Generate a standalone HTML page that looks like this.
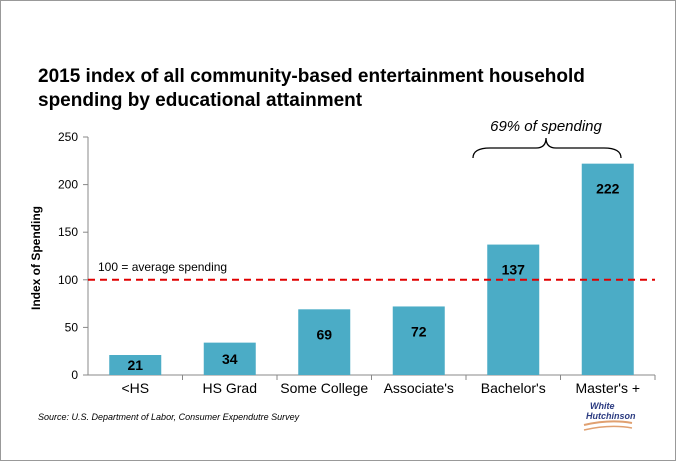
<!DOCTYPE html>
<html><head><meta charset="utf-8"><style>
body{margin:0;background:#fff}
svg{display:block;font-family:"Liberation Sans",sans-serif}
</style></head><body>
<svg id="c" width="676" height="461">
<rect x="0.5" y="0.5" width="675" height="460" fill="#fff" stroke="#999"/>
<text x="38" y="82" font-size="19" font-weight="bold" fill="#000">2015 index of all community-based entertainment household</text>
<text x="38" y="106" font-size="19" font-weight="bold" fill="#000">spending by educational attainment</text>
<text transform="translate(40,258) rotate(-90)" text-anchor="middle" font-size="12" font-weight="bold">Index of Spending</text>
<text x="38" y="420" font-size="9" font-style="italic">Source: U.S. Department of Labor, Consumer Expendutre Survey</text>
<g>
<text x="590" y="409" font-size="9" font-style="italic" font-weight="bold" fill="#2a3a80">White</text>
<text x="586" y="419" font-size="9" font-style="italic" font-weight="bold" fill="#2a3a80">Hutchinson</text>
<path d="M584 425 Q610 419 632 423" stroke="#e0a070" stroke-width="2" fill="none"/>
<path d="M584 430 Q610 424 632 428" stroke="#e0a070" stroke-width="1.5" fill="none"/>
</g>
<text x="546" y="131" text-anchor="middle" font-size="15" font-style="italic">69% of spending</text>
<path d="M473 158 Q473 148 490 148 L536 148 Q546 148 546 138 Q546 148 556 148 L604 148 Q621 148 621 158" stroke="#000" stroke-width="1.3" fill="none"/>
</svg>
<script>
const categories=["<HS","HS Grad","Some College","Associate's","Bachelor's","Master's +"];
const values=[21,34,69,72,137,222];
const ticks=[0,50,100,150,200,250];
const refValue=100;
const svg=document.getElementById('c');const NS='http://www.w3.org/2000/svg';
const x0=88,x1=655,y0=375,y1=137;
const y=v=>y0-(v/250)*(y0-y1);
const bw=(x1-x0)/categories.length;
const xc=i=>x0+bw*(i+0.5);
function mk(t,a,txt){const e=document.createElementNS(NS,t);for(const k in a)e.setAttribute(k,a[k]);if(txt!=null)e.textContent=txt;svg.appendChild(e);return e;}
let ax=mk('line',{x1:x0,x2:x0,y1:y1,y2:y0,stroke:'#888'});


ticks.forEach(t=>{
 let l=mk('line',{x1:x0-5,x2:x0,y1:y(t),y2:y(t),stroke:'#888'});
 
 
 let tx=mk('text',{x:x0-10,y:y(t)+4,'text-anchor':'end','font-size':12},t);
 
 
});
let xa=mk('line',{x1:x0,x2:x1,y1:y0,y2:y0,stroke:'#888'});


categories.forEach((c,i)=>{
 let tk=mk('line',{x1:x0+bw*(i+1),x2:x0+bw*(i+1),y1:y0,y2:y0+5,stroke:'#888'});
 
 
 let b=mk('rect',{x:xc(i)-26,y:y(values[i]),width:52,height:y0-y(values[i]),fill:'#4bacc6'});
 
 
 let v=mk('text',{x:xc(i),y:y(values[i])+Math.min(30,(y0-y(values[i]))/2+5),'text-anchor':'middle','font-size':14,'font-weight':'bold'},values[i]);
 
 
 let lb=mk('text',{x:xc(i),y:y0+18,'text-anchor':'middle','font-size':14},c);
 
 
});
let rl=mk('line',{x1:x0,x2:x1,y1:y(refValue),y2:y(refValue),stroke:'#e00000','stroke-width':2,'stroke-dasharray':'7,5'});


let rt=mk('text',{x:x0+10,y:y(refValue)-9,'font-size':12},'100 = average spending');


</script>
</body></html>
